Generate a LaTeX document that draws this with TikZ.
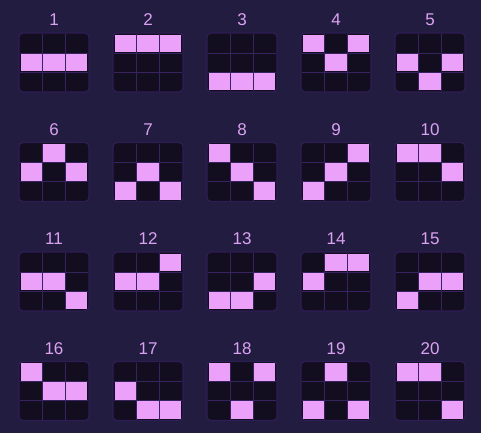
\documentclass[tikz,border=0pt]{standalone}
\usepackage{fontspec}
\setmainfont{Liberation Sans}
\definecolor{bg}{HTML}{221C40}
\definecolor{cellbg}{HTML}{120E20}
\definecolor{gridc}{HTML}{36235F}
\definecolor{edgec}{HTML}{2F1D55}
\definecolor{litc}{HTML}{EBA0FA}
\definecolor{lblc}{HTML}{DCA2F2}
\tikzset{
  lbltext/.style={text=lblc, font=\fontsize{17}{17}\selectfont, anchor=base, inner sep=0pt},
  panelbox/.style={fill=cellbg, draw=edgec, line width=1.2pt, rounded corners=4pt},
  gridline/.style={draw=gridc, line width=0.7pt},
  litcell/.style={fill=litc}
}
\begin{document}
\begin{tikzpicture}[x=1pt,y=-1pt]
\useasboundingbox (0,0) rectangle (481,433);
\fill[bg] (0,0) rectangle (481,433);
\foreach \n/\c/\r/\cells in {
  1/0/0/{3,4,5}, 2/1/0/{0,1,2}, 3/2/0/{6,7,8}, 4/3/0/{0,4,2}, 5/4/0/{3,7,5},
  6/0/1/{1,3,5}, 7/1/1/{4,6,8}, 8/2/1/{0,4,8}, 9/3/1/{2,4,6}, 10/4/1/{0,1,5},
  11/0/2/{3,4,8}, 12/1/2/{2,3,4}, 13/2/2/{5,6,7}, 14/3/2/{1,2,3}, 15/4/2/{4,5,6},
  16/0/3/{0,4,5}, 17/1/3/{3,7,8}, 18/2/3/{0,2,7}, 19/3/3/{1,6,8}, 20/4/3/{0,1,8}} {
  \pgfmathsetmacro\X{19+94*\c}
  \pgfmathsetmacro\Y{33+109.5*\r}
  \node[lbltext] (L\n) at (\X+35,\Y-7.3) {\n};
  \path[panelbox] (\X,\Y) rectangle ++(70,59);
  \foreach \i in {1,2} {
    \draw[gridline] (\X+1+22.67*\i,\Y+1) -- ++(0,57);
    \draw[gridline] (\X+1,\Y+1+19*\i) -- ++(68,0);
  }
  \foreach \k in \cells {
    \pgfmathtruncatemacro\ci{mod(\k,3)}
    \pgfmathtruncatemacro\rj{div(\k,3)}
    \fill[litcell] (\X+1.6+22.67*\ci,\Y+1.6+19*\rj) rectangle ++(21.5,17.8);
  }
}
\end{tikzpicture}
\end{document}
